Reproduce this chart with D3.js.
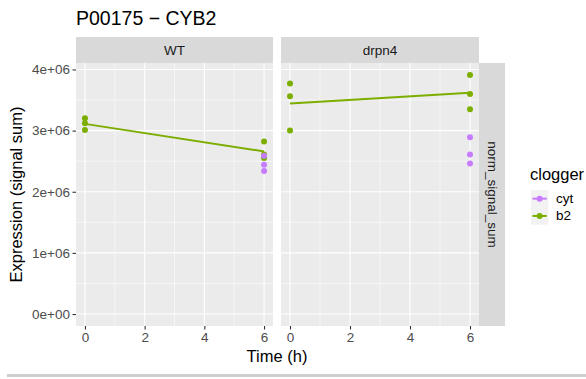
<!DOCTYPE html>
<html>
<head>
<meta charset="utf-8">
<script src="https://cdn.jsdelivr.net/npm/d3@7"></script>
<style>
  body { margin: 0; background: #fff; }
  svg { font-family: "Liberation Sans", Arial, sans-serif; display: block; }
</style>
</head>
<body>
<div id="chart"></div>
<script>
// data
const conditions = ["WT", "drpn4"];
const xTicks = [0, 2, 4, 6];
const yTicks = [0, 1e6, 2e6, 3e6, 4e6];
const b2Time = [0, 0, 0, 6, 6, 6];
const b2WT = [3.20e6, 3.12e6, 3.01e6, 2.82e6, 2.61e6, 2.55e6];
const b2Drpn4 = [3.77e6, 3.56e6, 3.00e6, 3.91e6, 3.60e6, 3.35e6];
const cytTime = [6, 6, 6];
const cytWT = [2.59e6, 2.44e6, 2.34e6];
const cytDrpn4 = [2.89e6, 2.61e6, 2.46e6];
const legendItems = ["cyt", "b2"];

const colors = {cyt: "#C77CFF", b2: "#7CAE00"};
const b2Values = {WT: b2WT, drpn4: b2Drpn4};
const cytValues = {WT: cytWT, drpn4: cytDrpn4};

const W = 586, H = 379;
const panelTop = 63, panelBottom = 326;
const panels = [{name: conditions[0], x0: 76, x1: 273}, {name: conditions[1], x0: 281, x1: 479}];

const svg = d3.select("#chart").append("svg")
    .attr("width", W)
    .attr("height", H);

// y scale with ggplot-like 5% expansion, including 0
const allVals = b2WT.concat(b2Drpn4, cytWT, cytDrpn4);
const yMax = d3.max(allVals), yMin = 0;
const pad = (yMax - yMin) * 0.05;
const y = d3.scaleLinear().domain([yMin - pad, yMax + pad]).range([panelBottom, panelTop]);

// linear fit (geom_smooth method = lm)
function lmFit(xs, ys) {
    let mx = d3.mean(xs), my = d3.mean(ys);
    let num = 0, den = 0;
    xs.forEach(function (xv, i) {
        num += (xv - mx) * (ys[i] - my);
        den += (xv - mx) * (xv - mx);
    });
    let b = num / den;
    return function (xv) { return my + b * (xv - mx); };
}

// title
svg.append("text")
    .attr("x", 76).attr("y", 25)
    .attr("font-size", 19.5)
    .attr("fill", "#000")
    .text("P00175 \u2212 CYB2");

panels.forEach(function (p) {
    let x = d3.scaleLinear().domain([-0.3, 6.3]).range([p.x0, p.x1]);
    let g = svg.append("g");

    // strip
    g.append("rect")
        .attr("x", p.x0).attr("y", 37)
        .attr("width", p.x1 - p.x0).attr("height", panelTop - 37)
        .attr("fill", "#D9D9D9");
    g.append("text")
        .attr("x", (p.x0 + p.x1) / 2).attr("y", 50)
        .attr("text-anchor", "middle").attr("dominant-baseline", "central")
        .attr("font-size", 13.5).attr("fill", "#1A1A1A")
        .text(p.name);

    // panel background
    g.append("rect")
        .attr("x", p.x0).attr("y", panelTop)
        .attr("width", p.x1 - p.x0).attr("height", panelBottom - panelTop)
        .attr("fill", "#EBEBEB");

    // minor grid
    [1, 3, 5].forEach(function (t) {
        g.append("line")
            .attr("x1", x(t)).attr("x2", x(t))
            .attr("y1", panelTop).attr("y2", panelBottom)
            .attr("stroke", "#fff").attr("stroke-width", 0.55);
    });
    [0.5e6, 1.5e6, 2.5e6, 3.5e6].forEach(function (v) {
        g.append("line")
            .attr("x1", p.x0).attr("x2", p.x1)
            .attr("y1", y(v)).attr("y2", y(v))
            .attr("stroke", "#fff").attr("stroke-width", 0.55);
    });
    // major grid
    xTicks.forEach(function (t) {
        g.append("line")
            .attr("x1", x(t)).attr("x2", x(t))
            .attr("y1", panelTop).attr("y2", panelBottom)
            .attr("stroke", "#fff").attr("stroke-width", 1.1);
    });
    yTicks.forEach(function (v) {
        g.append("line")
            .attr("x1", p.x0).attr("x2", p.x1)
            .attr("y1", y(v)).attr("y2", y(v))
            .attr("stroke", "#fff").attr("stroke-width", 1.1);
    });

    // x axis
    let xAxis = d3.axisBottom(x).tickValues(xTicks).tickSize(3.5).tickPadding(2.5)
        .tickFormat(d3.format("d"));
    let ax = g.append("g")
        .attr("transform", "translate(0," + panelBottom + ")")
        .call(xAxis);
    ax.select(".domain").remove();
    ax.selectAll(".tick line").attr("stroke", "#333").attr("stroke-width", 1.1);
    ax.selectAll(".tick text")
        .attr("font-size", 13.5).attr("fill", "#4D4D4D")
        .attr("font-family", "Liberation Sans, Arial, sans-serif");

    // smooth line
    let fit = lmFit(b2Time, b2Values[p.name]);
    g.append("path")
        .datum([0, 6])
        .attr("fill", "none")
        .attr("stroke", colors.b2)
        .attr("stroke-width", 2)
        .attr("d", d3.line().x(function (d) { return x(d); }).y(function (d) { return y(fit(d)); }));

    // points
    g.selectAll(".b2pt").data(b2Values[p.name]).enter().append("circle")
        .attr("cx", function (d, i) { return x(b2Time[i]); })
        .attr("cy", function (d) { return y(d); })
        .attr("r", 3)
        .attr("fill", colors.b2);
    g.selectAll(".cytpt").data(cytValues[p.name]).enter().append("circle")
        .attr("cx", function (d, i) { return x(cytTime[i]); })
        .attr("cy", function (d) { return y(d); })
        .attr("r", 3)
        .attr("fill", colors.cyt);
});

// y axis
const yAxis = d3.axisLeft(y).tickValues(yTicks).tickSize(3.5).tickPadding(2.5)
    .tickFormat(function (d) {
        return d === 0 ? "0e+00" : (d / 1e6) + "e+06";
    });
const ay = svg.append("g")
    .attr("transform", "translate(76,0)")
    .call(yAxis);
ay.select(".domain").remove();
ay.selectAll(".tick line").attr("stroke", "#333").attr("stroke-width", 1.1);
ay.selectAll(".tick text")
    .attr("font-size", 13.5).attr("fill", "#4D4D4D")
    .attr("font-family", "Liberation Sans, Arial, sans-serif");

// right strip
svg.append("rect")
    .attr("x", 479).attr("y", panelTop)
    .attr("width", 26).attr("height", panelBottom - panelTop)
    .attr("fill", "#D9D9D9");
svg.append("text")
    .attr("transform", "translate(492," + (panelTop + panelBottom) / 2 + ") rotate(90)")
    .attr("text-anchor", "middle").attr("dominant-baseline", "central")
    .attr("font-size", 13.5).attr("fill", "#1A1A1A")
    .text("norm_signal_sum");

// axis titles
svg.append("text")
    .attr("x", 277).attr("y", 362)
    .attr("text-anchor", "middle")
    .attr("font-size", 16.5).attr("fill", "#000")
    .text("Time (h)");
svg.append("text")
    .attr("transform", "translate(22," + (panelTop + panelBottom) / 2 + ") rotate(-90)")
    .attr("text-anchor", "middle")
    .attr("font-size", 16.5).attr("fill", "#000")
    .text("Expression (signal sum)");

// legend
const lg = svg.append("g");
lg.append("text")
    .attr("x", 530).attr("y", 180)
    .attr("font-size", 16.5).attr("fill", "#000")
    .text("clogger");
legendItems.forEach(function (k, i) {
    let ky = 190 + i * 17.3;
    lg.append("rect")
        .attr("x", 531).attr("y", ky)
        .attr("width", 17.3).attr("height", 17.3)
        .attr("fill", "#F2F2F2");
    lg.append("line")
        .attr("x1", 532.5).attr("x2", 546.8)
        .attr("y1", ky + 8.65).attr("y2", ky + 8.65)
        .attr("stroke", colors[k]).attr("stroke-width", 2);
    lg.append("circle")
        .attr("cx", 539.65).attr("cy", ky + 8.65)
        .attr("r", 3).attr("fill", colors[k]);
    lg.append("text")
        .attr("x", 556).attr("y", ky + 8.65)
        .attr("dominant-baseline", "central")
        .attr("font-size", 13.5).attr("fill", "#000")
        .text(k);
});

// bottom grey bar
svg.append("rect")
    .attr("x", 7).attr("y", 374)
    .attr("width", W - 7).attr("height", 3)
    .attr("fill", "#CFCFCF");
</script>
</body>
</html>
